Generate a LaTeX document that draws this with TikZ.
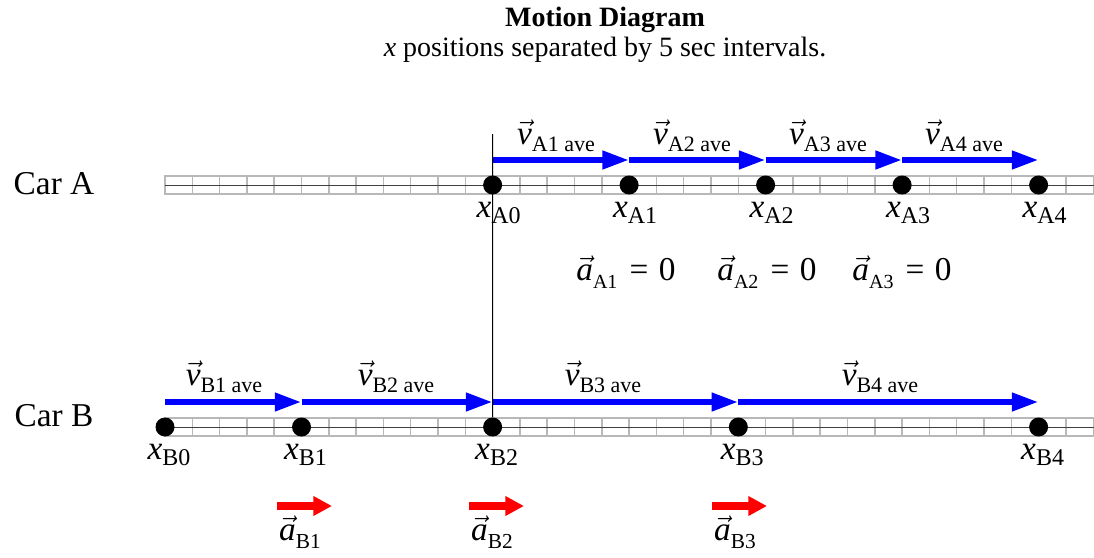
\documentclass[tikz,border=0pt]{standalone}
\usepackage{fontspec}
\setmainfont{Liberation Serif}
\usetikzlibrary{arrows.meta}
\newcommand{\xlab}[1]{\fontsize{25}{25}\selectfont\textit{x}\fontsize{18}{18}\selectfont\raisebox{-5pt}{#1}}
\newcommand{\vlab}[1]{\fontsize{25}{25}\selectfont$\vec{\mbox{\textit{v}}}$\fontsize{16.5}{16.5}\selectfont\raisebox{-5pt}{#1}}
\newcommand{\alab}[2]{\fontsize{25}{25}\selectfont$\vec{\mbox{\textit{a}}}$\fontsize{#2}{#2}\selectfont\raisebox{-6pt}{#1}}
\newcommand{\azero}[1]{\alab{#1}{15}\fontsize{25}{25}\selectfont\hspace{9pt}=\hspace{8pt}0}
\begin{document}
\begin{tikzpicture}[x=0.75pt,y=-0.75pt,
  trackbox/.style={draw=black!28, line width=1.1pt},
  midline/.style={draw=black!75, line width=0.75pt},
  dot/.style={circle, fill=black, inner sep=0pt, minimum size=14.25pt},
  varrow/.style={draw=blue, line width=4.5pt, -{Triangle[length=20pt,width=13pt,fill=blue]}},
  aarrow/.style={draw=red, line width=6pt, -{Triangle[length=14pt,width=14pt,fill=red]}},
  lbl/.style={inner sep=0pt},
  vline/.style={draw=black, line width=0.9pt}]
\useasboundingbox (0,0) rectangle (1094,557);
% title
\node[lbl] (title) at (605,20) {\fontsize{21}{21}\selectfont\bfseries Motion Diagram};
\node[lbl] (subtitle) at (605,50) {\fontsize{21}{21}\selectfont\textit{x} positions separated by 5 sec intervals.};
% car labels
\node[lbl] (carA) at (54,184) {\fontsize{25}{25}\selectfont Car A};
\node[lbl] (carB) at (54,416) {\fontsize{25}{25}\selectfont Car B};
% tracks
\foreach \ty in {185,427}{
  \draw[trackbox] (165,\ty-9) rectangle (1094,\ty+9);
  \foreach \i in {1,...,33} \draw[trackbox] ({165+\i*27.3},\ty-9) -- ({165+\i*27.3},\ty+9);
  \draw[midline] (165,\ty) -- (1094,\ty);
}
% car A dots
\foreach \n/\c in {0/12,1/17,2/22,3/27,4/32}{
  \node[dot] (A\n) at ({165+\c*27.3},185) {};
  \coordinate (vA\n) at ({165+\c*27.3},160);
  \node[lbl] (xA\n) at ({165+\c*27.3+6},213) {\xlab{A\n}};
}
% car B dots
\foreach \n/\c in {0/0,1/5,2/12,3/21,4/32}{
  \node[dot] (B\n) at ({165+\c*27.3},427) {};
  \coordinate (vB\n) at ({165+\c*27.3},402);
  \node[lbl] (xB\n) at ({165+\c*27.3+4},455) {\xlab{B\n}};
}
% velocity arrows A
\foreach \a/\b in {0/1,1/2,2/3,3/4}{
  \draw[varrow] (vA\a) -- (vA\b);
}
\node[lbl] (lvA1) at (556,136) {\vlab{A1 ave}};
\node[lbl] (lvA2) at (692,136) {\vlab{A2 ave}};
\node[lbl] (lvA3) at (828,136) {\vlab{A3 ave}};
\node[lbl] (lvA4) at (964,136) {\vlab{A4 ave}};
% velocity arrows B
\foreach \a/\b in {0/1,1/2,2/3,3/4}{
  \draw[varrow] (vB\a) -- (vB\b);
}
\node[lbl] (lvB1) at (224,377) {\vlab{B1 ave}};
\node[lbl] (lvB2) at (396,377) {\vlab{B2 ave}};
\node[lbl] (lvB3) at (603,377) {\vlab{B3 ave}};
\node[lbl] (lvB4) at (880,377) {\vlab{B4 ave}};
% vertical reference line
\coordinate (vtop) at (492.6,134);
\draw[vline] (vtop) -- (B2.north);
% accelerations A
\node[lbl] (aA1) at (626,272) {\azero{A1}};
\node[lbl] (aA2) at (767,272) {\azero{A2}};
\node[lbl] (aA3) at (902,272) {\azero{A3}};
% accelerations B
\foreach \n/\xs in {1/277,2/469,3/712}{
  \coordinate (aBs\n) at (\xs,506);
  \coordinate (aBe\n) at (\xs+55,506);
  \draw[aarrow] (aBs\n) -- (aBe\n);
  \node[lbl] (aB\n) at (\xs+23,532) {\alab{B\n}{16}};
}
\end{tikzpicture}
\end{document}
